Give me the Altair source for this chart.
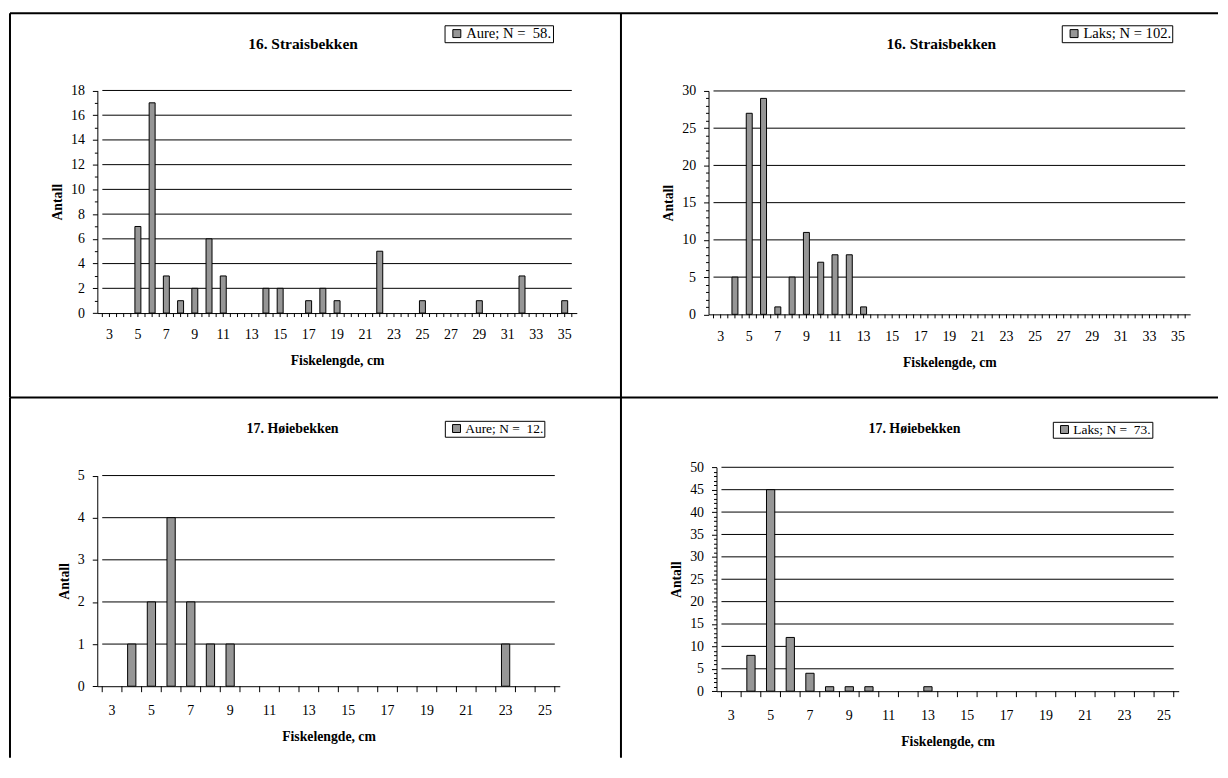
import altair as alt
import pandas as pd

FONT = "Liberation Serif"
GRAY = "#969696"

# ---------------- data ----------------
tl_title = "16. Straisbekken"
tl_legend = "Aure; N =\u00a0\u00a058."
tl_len = [5, 6, 7, 8, 9, 10, 11, 14, 15, 17, 18, 19, 22, 25, 29, 32, 35]
tl_cnt = [7, 17, 3, 1, 2, 6, 3, 2, 2, 1, 2, 1, 5, 1, 1, 3, 1]
tl_xlabels = [3, 5, 7, 9, 11, 13, 15, 17, 19, 21, 23, 25, 27, 29, 31, 33, 35]
tl_ygrid = [2, 4, 6, 8, 10, 12, 14, 16, 18]

tr_title = "16. Straisbekken"
tr_legend = "Laks; N = 102."
tr_len = [4, 5, 6, 7, 8, 9, 10, 11, 12, 13]
tr_cnt = [5, 27, 29, 1, 5, 11, 7, 8, 8, 1]
tr_xlabels = [3, 5, 7, 9, 11, 13, 15, 17, 19, 21, 23, 25, 27, 29, 31, 33, 35]
tr_ygrid = [5, 10, 15, 20, 25, 30]

bl_title = "17. Høiebekken"
bl_legend = "Aure; N =\u00a0\u00a012."
bl_len = [4, 5, 6, 7, 8, 9, 23]
bl_cnt = [1, 2, 4, 2, 1, 1, 1]
bl_xlabels = [3, 5, 7, 9, 11, 13, 15, 17, 19, 21, 23, 25]
bl_ygrid = [1, 2, 3, 4, 5]

br_title = "17. Høiebekken"
br_legend = "Laks; N =\u00a0\u00a073."
br_len = [4, 5, 6, 7, 8, 9, 10, 13]
br_cnt = [8, 45, 12, 4, 1, 1, 1, 1]
br_xlabels = [3, 5, 7, 9, 11, 13, 15, 17, 19, 21, 23, 25]
br_ygrid = [5, 10, 15, 20, 25, 30, 35, 40, 45, 50]

X_TITLE = "Fiskelengde, cm"
Y_TITLE = "Antall"


def panel(title, legend_label, lens, cnts, xlabels, ygrid, xmax, ymax, ymajor,
          yminor, W, H, xr, yr, bar_size, half_ticks, title_xy, title_size,
          legend_xy, legend_size, xtick, xlab_dy, xtitlepad, ytitlepad):
    df = pd.DataFrame({"len": lens, "cnt": cnts, "serie": [legend_label] * len(lens)})
    xs = alt.Scale(domain=[2.5, xmax + 0.5], range=xr, nice=False, zero=False)
    ys = alt.Scale(domain=[0, ymax], range=yr, nice=False, zero=True)

    # category boundaries (and centres for the top charts) carry tick marks
    step = 0.5 if half_ticks else 1.0
    n = int(round((xmax - 2) / step))
    tick_pos = [2.5 + i * step for i in range(n + 1)]

    xaxis = alt.Axis(labels=False, ticks=False, title=X_TITLE, titlePadding=xtitlepad,
                     offset=-(H - yr[0]))
    if yminor:
        yvals = list(range(0, ymax + 1))
    else:
        yvals = list(range(0, ymax + 1, ymajor))
    yaxis = alt.Axis(values=yvals, format="d", labelOverlap=False, labelFlush=False,
                     tickCount=100,
                     tickSize={"condition": {"test": f"datum.value % {ymajor} === 0", "value": 5}, "value": 3},
                     labelExpr=f"datum.value % {ymajor} === 0 ? datum.label : ''",
                     labelPadding=8, title=Y_TITLE, titlePadding=ytitlepad,
                     offset=-xr[0])

    grid = alt.Chart(pd.DataFrame({"g": ygrid})).mark_rule(color="black", strokeWidth=1).encode(
        y=alt.Y("g:Q", scale=ys, axis=yaxis),
        x=alt.X(datum=2.5, type="quantitative", scale=xs, axis=xaxis),
        x2=alt.X2(datum=xmax + 0.5),
    )
    bars = alt.Chart(df).mark_bar(stroke="black", strokeWidth=1, size=bar_size).encode(
        x=alt.X("len:Q", scale=xs, axis=xaxis),
        y=alt.Y("cnt:Q", scale=ys, axis=yaxis),
        color=alt.Color("serie:N", scale=alt.Scale(range=[GRAY]),
                        legend=alt.Legend(title=None, orient="none",
                                          legendX=legend_xy[0], legendY=legend_xy[1],
                                          strokeColor="black", fillColor="white",
                                          padding=1, symbolType="square", symbolSize=64,
                                          symbolStrokeColor="black", symbolStrokeWidth=1,
                                          symbolOffset=4, labelOffset=2,
                                          labelFont=FONT, labelFontSize=legend_size,
                                          labelColor="black", labelLimit=0)),
    )
    xticks = alt.Chart(pd.DataFrame({"t": tick_pos})).mark_rule(color="black", strokeWidth=1).encode(
        x=alt.X("t:Q", scale=xs, axis=xaxis),
        y=alt.value(yr[0]), y2=alt.value(yr[0] + xtick),
    )
    xlabs = alt.Chart(pd.DataFrame({"v": xlabels})).mark_text(
        font=FONT, fontSize=14, color="black", align="center", baseline="middle").encode(
        x=alt.X("v:Q", scale=xs, axis=xaxis),
        y=alt.value(yr[0] + xlab_dy),
        text=alt.Text("v:Q", format="d"),
    )
    frame_top = alt.Chart(pd.DataFrame({"a": [0]})).mark_rule(color="black", strokeWidth=2).encode(
        x=alt.value(0), x2=alt.value(W), y=alt.value(0))
    frame_left = alt.Chart(pd.DataFrame({"a": [0]})).mark_rule(color="black", strokeWidth=2).encode(
        x=alt.value(0), y=alt.value(0), y2=alt.value(H))
    ttl = alt.Chart(pd.DataFrame({"t": [title]})).mark_text(
        font=FONT, fontSize=title_size, fontWeight="bold", align="center", baseline="middle",
        color="black").encode(text="t:N", x=alt.value(title_xy[0]), y=alt.value(title_xy[1]))
    return alt.layer(grid, bars, xticks, xlabs, frame_top, frame_left, ttl).properties(width=W, height=H)


tl = panel(tl_title, tl_legend, tl_len, tl_cnt, tl_xlabels, tl_ygrid, 35, 18, 2, True,
           614, 386, [87.8, 569.6], [301.2, 77.5], 6, True, (294.5, 31.2), 15.5,
           (436.7, 12), 14.7, 4, 22, 41, 6)
tr = panel(tr_title, tr_legend, tr_len, tr_cnt, tr_xlabels, tr_ygrid, 35, 30, 5, True,
           600, 386, [88, 572], [302.5, 78], 6, True, (322, 31.2), 15.5,
           (443, 12), 14.7, 4, 22.5, 41, 6)
bl = panel(bl_title, bl_legend, bl_len, bl_cnt, bl_xlabels, bl_ygrid, 25, 5, 1, False,
           614, 362, [87.7, 552.5], [290.2, 78.5], 8.3, False, (284, 31.5), 14,
           (437, 23.5), 13.5, 6, 25, 44, 6)
br = panel(br_title, br_legend, br_len, br_cnt, br_xlabels, br_ygrid, 25, 50, 5, True,
           600, 362, [96, 560.5], [295.2, 70.2], 8.3, False, (295, 31.5), 14,
           (434, 24.5), 13.5, 6, 25, 44, 6)

chart = alt.concat(tl, tr, bl, br, columns=2, spacing=0, bounds="flush").resolve_scale(
    color="independent").properties(
    padding={"left": 0, "top": 1.5, "right": 0, "bottom": 0}
).configure(font=FONT).configure_view(stroke="transparent").configure_axis(
    labelFont=FONT, labelFontSize=14, labelColor="black",
    titleFont=FONT, titleFontSize=13.8, titleFontWeight="bold", titleColor="black",
    domainColor="black", tickColor="black", grid=False, labelFlush=False, labelOverlap=False,
)

chart.save("out.html", embed_options={"renderer": "svg", "actions": False})
